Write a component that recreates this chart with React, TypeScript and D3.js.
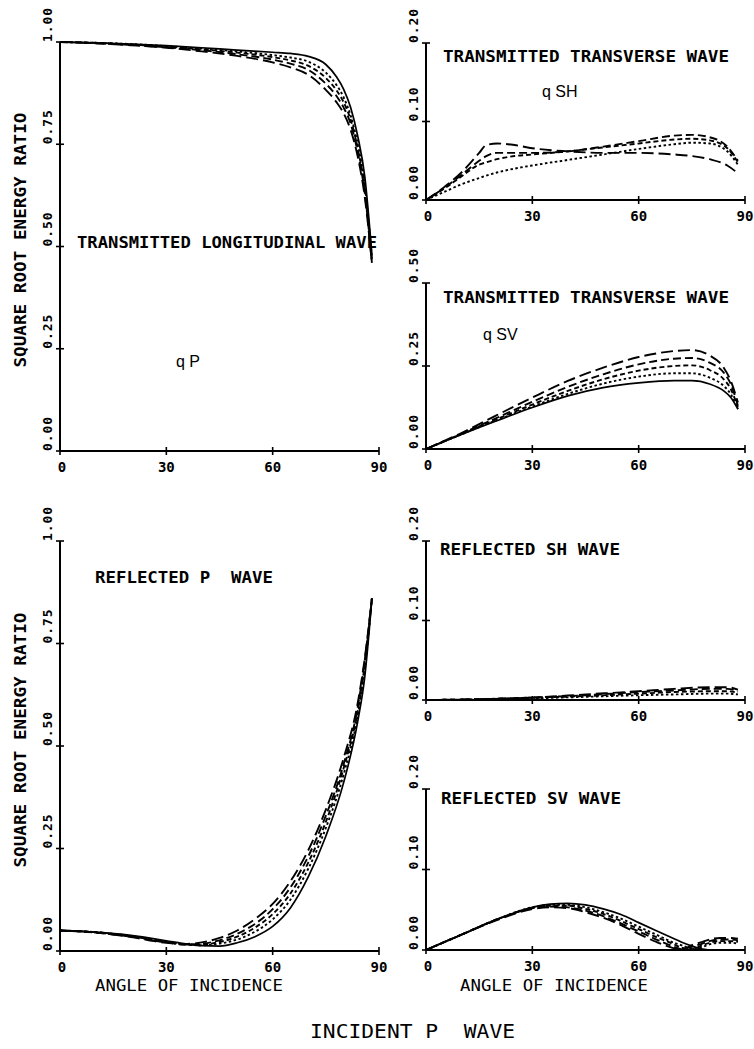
import React from 'react';
import * as d3 from 'd3';

const MONO = '"DejaVu Sans Mono", monospace';
const SANS = '"Liberation Sans", Arial, sans-serif';

const xTicks = [0, 30, 60, 90];
const xTickLabels = ['0', '30', '60', '90'];

// Transmitted longitudinal (qP)
const qpAngles = [0, 10, 20, 30, 40, 50, 60, 65, 70, 75, 78, 80, 82, 84, 86, 88];
const qpSolid = [1.0, 0.998, 0.995, 0.991, 0.986, 0.98, 0.975, 0.972, 0.965, 0.945, 0.915, 0.885, 0.84, 0.77, 0.67, 0.48];
const qpD1 = [1.0, 0.998, 0.995, 0.99, 0.984, 0.977, 0.968, 0.962, 0.952, 0.925, 0.895, 0.865, 0.82, 0.75, 0.65, 0.47];
const qpD2 = [1.0, 0.998, 0.994, 0.989, 0.982, 0.974, 0.963, 0.955, 0.942, 0.912, 0.882, 0.853, 0.81, 0.74, 0.64, 0.47];
const qpD3 = [1.0, 0.997, 0.993, 0.987, 0.98, 0.97, 0.957, 0.947, 0.932, 0.898, 0.868, 0.84, 0.8, 0.73, 0.63, 0.46];
const qpD4 = [1.0, 0.997, 0.992, 0.986, 0.977, 0.966, 0.95, 0.938, 0.92, 0.883, 0.853, 0.826, 0.785, 0.72, 0.62, 0.46];

// Transmitted transverse qSH
const qshAngles = [0, 5, 10, 15, 17, 20, 25, 30, 40, 50, 60, 70, 75, 80, 85, 88];
const qshSolid = [0, 0, 0, 0, 0, 0, 0, 0, 0, 0, 0, 0, 0, 0, 0, 0];
const qshD1 = [0, 0.01, 0.02, 0.028, 0.031, 0.035, 0.04, 0.044, 0.051, 0.058, 0.065, 0.071, 0.073, 0.072, 0.062, 0.045];
const qshD2 = [0, 0.014, 0.03, 0.045, 0.048, 0.052, 0.056, 0.058, 0.062, 0.067, 0.072, 0.077, 0.078, 0.076, 0.066, 0.048];
const qshD3 = [0, 0.015, 0.032, 0.05, 0.056, 0.06, 0.06, 0.06, 0.062, 0.068, 0.075, 0.082, 0.083, 0.08, 0.068, 0.05];
const qshD4 = [0, 0.016, 0.035, 0.06, 0.07, 0.072, 0.07, 0.066, 0.062, 0.06, 0.06, 0.058, 0.056, 0.052, 0.044, 0.034];

// Transmitted transverse qSV
const qsvAngles = [0, 5, 10, 15, 20, 30, 40, 50, 60, 70, 75, 80, 84, 86, 88];
const qsvSolid = [0, 0.022, 0.044, 0.065, 0.085, 0.125, 0.16, 0.185, 0.199, 0.206, 0.206, 0.196, 0.175, 0.155, 0.12];
const qsvD1 = [0, 0.022, 0.044, 0.066, 0.087, 0.128, 0.166, 0.197, 0.218, 0.228, 0.228, 0.215, 0.19, 0.165, 0.12];
const qsvD2 = [0, 0.023, 0.045, 0.068, 0.09, 0.134, 0.175, 0.21, 0.236, 0.25, 0.252, 0.238, 0.21, 0.18, 0.125];
const qsvD3 = [0, 0.023, 0.046, 0.07, 0.094, 0.142, 0.187, 0.225, 0.255, 0.272, 0.274, 0.26, 0.23, 0.195, 0.13];
const qsvD4 = [0, 0.024, 0.048, 0.075, 0.102, 0.155, 0.205, 0.245, 0.277, 0.295, 0.298, 0.282, 0.245, 0.205, 0.14];

// Reflected P
const rpAngles = [0, 10, 20, 30, 35, 40, 45, 50, 55, 60, 65, 70, 75, 80, 84, 86, 88];
const rpSolid = [0.05, 0.046, 0.038, 0.025, 0.018, 0.013, 0.012, 0.02, 0.035, 0.06, 0.105, 0.18, 0.28, 0.41, 0.56, 0.67, 0.86];
const rpD1 = [0.05, 0.046, 0.037, 0.023, 0.016, 0.014, 0.018, 0.028, 0.047, 0.077, 0.125, 0.2, 0.3, 0.43, 0.575, 0.69, 0.86];
const rpD2 = [0.05, 0.046, 0.036, 0.022, 0.016, 0.016, 0.022, 0.035, 0.057, 0.09, 0.14, 0.215, 0.315, 0.445, 0.585, 0.7, 0.86];
const rpD3 = [0.05, 0.045, 0.035, 0.021, 0.016, 0.018, 0.026, 0.042, 0.066, 0.102, 0.155, 0.23, 0.33, 0.455, 0.595, 0.71, 0.86];
const rpD4 = [0.05, 0.045, 0.034, 0.02, 0.017, 0.021, 0.032, 0.05, 0.078, 0.115, 0.17, 0.245, 0.345, 0.47, 0.605, 0.715, 0.86];

// Reflected SH
const rshAngles = [0, 15, 30, 45, 60, 70, 80, 85, 88];
const rshSolid = [0, 0, 0, 0, 0, 0, 0, 0, 0];
const rshD1 = [0, 0.0005, 0.002, 0.004, 0.006, 0.007, 0.008, 0.008, 0.007];
const rshD2 = [0, 0.001, 0.003, 0.005, 0.008, 0.01, 0.011, 0.011, 0.009];
const rshD3 = [0, 0.001, 0.003, 0.006, 0.01, 0.012, 0.014, 0.014, 0.011];
const rshD4 = [0, 0.001, 0.003, 0.007, 0.011, 0.014, 0.016, 0.016, 0.013];

// Reflected SV
const rsvAngles = [0, 10, 20, 30, 35, 40, 45, 50, 55, 60, 65, 70, 72, 75, 78, 80, 83, 86, 88];
const rsvSolid = [0, 0.019, 0.038, 0.053, 0.057, 0.058, 0.056, 0.051, 0.044, 0.034, 0.024, 0.014, 0.01, 0.005, 0.001, 0, 0, 0, 0];
const rsvD1 = [0, 0.019, 0.038, 0.053, 0.056, 0.056, 0.053, 0.047, 0.039, 0.029, 0.019, 0.009, 0.006, 0.002, 0.004, 0.007, 0.009, 0.009, 0.008];
const rsvD2 = [0, 0.019, 0.038, 0.052, 0.055, 0.055, 0.051, 0.045, 0.036, 0.026, 0.016, 0.007, 0.003, 0.001, 0.006, 0.009, 0.011, 0.011, 0.01];
const rsvD3 = [0, 0.019, 0.038, 0.052, 0.054, 0.053, 0.049, 0.042, 0.033, 0.023, 0.013, 0.004, 0.001, 0.004, 0.008, 0.011, 0.013, 0.013, 0.012];
const rsvD4 = [0, 0.019, 0.037, 0.051, 0.053, 0.052, 0.047, 0.04, 0.031, 0.02, 0.01, 0.002, 0, 0.006, 0.01, 0.013, 0.015, 0.015, 0.014];

const DASHES = [undefined, '2.5,2.5', '5,3', '8,4', '12,5'];

type PanelProps = {
  x0: number; x1: number; yBase: number; yTop: number; max: number;
  yTicks: number[]; yTickLabels: string[];
  angles: number[]; series: number[][];
};

function Panel(p: PanelProps) {
  const x = d3.scaleLinear().domain([0, 90]).range([p.x0, p.x1]);
  const y = d3.scaleLinear().domain([0, p.max]).range([p.yBase, p.yTop]);
  const line = d3.line<[number, number]>()
    .x(d => x(d[0]))
    .y(d => y(d[1]))
    .curve(d3.curveMonotoneX);
  return (
    <g>
      {p.series.map((vals, i) => (
        <path key={i} d={line(p.angles.map((a, j) => [a, vals[j]]) as [number, number][]) || ''}
          fill="none" stroke="#000" strokeWidth={i === 0 ? 1.7 : 1.9}
          strokeDasharray={DASHES[i]} />
      ))}
      <line x1={x(0)} x2={x(0)} y1={y(0)} y2={y(p.max)} stroke="#000" strokeWidth={2} />
      <line x1={x(0)} x2={x(90)} y1={y(0)} y2={y(0)} stroke="#000" strokeWidth={2} />
      {p.yTicks.map((t, i) => (
        <g key={'y' + i}>
          <line x1={x(0) - 4} x2={x(0) + 4} y1={y(t)} y2={y(t)} stroke="#000" strokeWidth={1.6} />
          <text transform={`translate(${x(0) - 8},${y(t)}) rotate(-90)`} fontFamily={MONO}
            fontWeight="bold" fontSize={13} textLength={34} lengthAdjust="spacing">{p.yTickLabels[i]}</text>
        </g>
      ))}
      {xTicks.map((t, i) => (
        <g key={'x' + i}>
          <line x1={x(t)} x2={x(t)} y1={y(0) - 4} y2={y(0) + 4} stroke="#000" strokeWidth={1.6} />
          <text x={x(t) + (t === 0 ? 2 : 0)} y={y(0) + 21} textAnchor="middle" fontFamily={MONO}
            fontWeight="bold" fontSize={14}>{xTickLabels[i]}</text>
        </g>
      ))}
    </g>
  );
}

function Label(props: { x: number; y: number; len: number; text: string; size?: number; weight?: string; rotate?: boolean }) {
  const tr = props.rotate ? `translate(${props.x},${props.y}) rotate(-90)` : `translate(${props.x},${props.y})`;
  return (
    <text transform={tr} fontFamily={MONO} fontWeight={props.weight || 'bold'} fontSize={props.size || 15}
      textLength={props.len} lengthAdjust="spacingAndGlyphs" style={{ whiteSpace: 'pre' }}
      textAnchor={props.rotate ? 'middle' : 'start'}>{props.text}</text>
  );
}

export default function App() {
  return (
    <svg width={754} height={1049} viewBox="0 0 754 1049"
      style={{ position: 'absolute', left: 0, top: 0, background: '#fff' }}>
      <rect width={754} height={1049} fill="#fff" />
      <Panel x0={60} x1={379} yBase={451} yTop={42} max={1}
        yTicks={[0, 0.25, 0.5, 0.75, 1]} yTickLabels={['0.00', '0.25', '0.50', '0.75', '1.00']}
        angles={qpAngles} series={[qpSolid, qpD1, qpD2, qpD3, qpD4]} />
      <Panel x0={426} x1={745} yBase={200} yTop={43} max={0.2}
        yTicks={[0, 0.1, 0.2]} yTickLabels={['0.00', '0.10', '0.20']}
        angles={qshAngles} series={[qshSolid, qshD1, qshD2, qshD3, qshD4]} />
      <Panel x0={426} x1={745} yBase={449} yTop={283} max={0.5}
        yTicks={[0, 0.25, 0.5]} yTickLabels={['0.00', '0.25', '0.50']}
        angles={qsvAngles} series={[qsvSolid, qsvD1, qsvD2, qsvD3, qsvD4]} />
      <Panel x0={60} x1={379} yBase={951} yTop={541} max={1}
        yTicks={[0, 0.25, 0.5, 0.75, 1]} yTickLabels={['0.00', '0.25', '0.50', '0.75', '1.00']}
        angles={rpAngles} series={[rpSolid, rpD1, rpD2, rpD3, rpD4]} />
      <Panel x0={426} x1={745} yBase={700} yTop={541} max={0.2}
        yTicks={[0, 0.1, 0.2]} yTickLabels={['0.00', '0.10', '0.20']}
        angles={rshAngles} series={[rshSolid, rshD1, rshD2, rshD3, rshD4]} />
      <Panel x0={426} x1={745} yBase={950} yTop={789} max={0.2}
        yTicks={[0, 0.1, 0.2]} yTickLabels={['0.00', '0.10', '0.20']}
        angles={rsvAngles} series={[rsvSolid, rsvD1, rsvD2, rsvD3, rsvD4]} />

      <Label x={77} y={248} len={300} text="TRANSMITTED LONGITUDINAL WAVE" />
      <Label x={443} y={62} len={286} text="TRANSMITTED TRANSVERSE WAVE" />
      <Label x={443} y={303} len={286} text="TRANSMITTED TRANSVERSE WAVE" />
      <Label x={95} y={583} len={178} text="REFLECTED P  WAVE" />
      <Label x={440} y={555} len={180} text="REFLECTED SH WAVE" />
      <Label x={441} y={804} len={180} text="REFLECTED SV WAVE" />
      <Label x={95} y={991} len={188} text="ANGLE OF INCIDENCE" weight="normal" size={16} />
      <Label x={460} y={991} len={188} text="ANGLE OF INCIDENCE" weight="normal" size={16} />
      <Label x={310} y={1038} len={205} text="INCIDENT P  WAVE" weight="normal" size={20} />
      <Label x={26} y={240} len={255} text="SQUARE ROOT ENERGY RATIO" rotate />
      <Label x={26} y={740} len={255} text="SQUARE ROOT ENERGY RATIO" rotate />

      <text x={176} y={367} fontFamily={SANS} fontSize={16}>q P</text>
      <text x={542} y={97} fontFamily={SANS} fontSize={16}>q SH</text>
      <text x={483} y={340} fontFamily={SANS} fontSize={16}>q SV</text>
    </svg>
  );
}
